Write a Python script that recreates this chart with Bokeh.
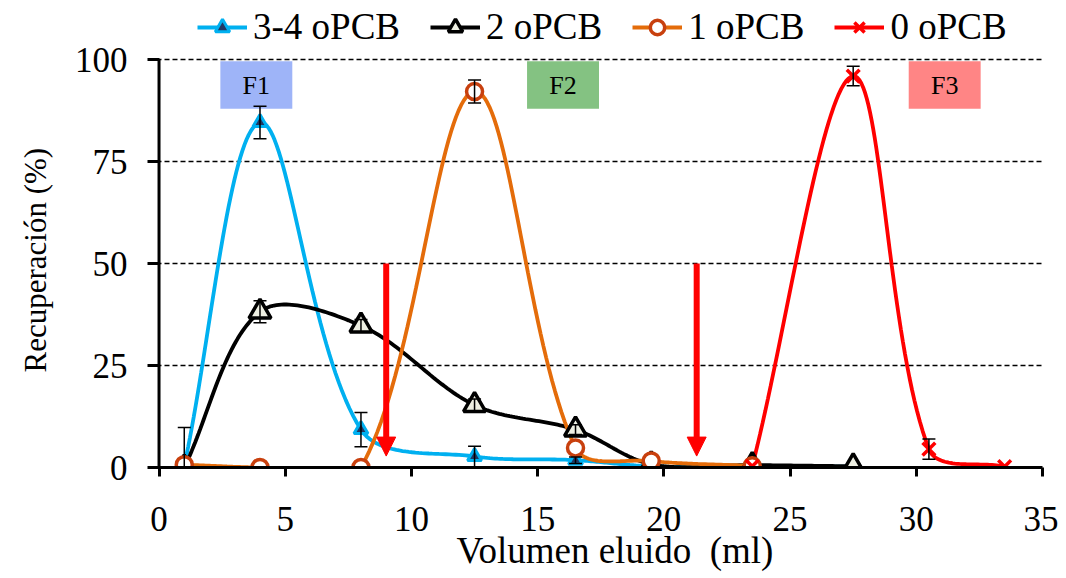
import numpy as np
from bokeh.plotting import figure
from bokeh.models import (Range1d, FixedTicker, Legend, LegendItem, Whisker, Title,
                          ColumnDataSource, Arrow, NormalHead, TeeHead)
from bokeh.core.properties import value
from bokeh.embed import file_html
from bokeh.resources import INLINE

# ---------------- data ----------------
x_blue = [1, 4, 8, 12.5, 16.5, 19.5, 23.5, 27.5]
y_blue = [0.5, 84.6, 9.3, 2.7, 1.8, 0.3, 0.2, 0.2]
e_blue = [9.3, 4.0, 4.2, 2.5, 0.8, 0, 0, 0]

x_black = [1, 4, 8, 12.5, 16.5, 19.5, 23.5, 27.5]
y_black = [0.0, 38.2, 34.8, 15.3, 9.3, 0.8, 0.6, 0.3]
e_black = [0, 2.7, 1.5, 1.5, 1.2, 0, 0, 0]

x_orange = [1, 4, 8, 12.5, 16.5, 19.5, 23.5]
y_orange = [0.7, 0.0, 0.0, 92.2, 4.8, 1.6, 0.4]
e_orange = [0, 0, 0, 2.8, 0, 0, 0]

x_red = [23.5, 27.5, 30.5, 33.5]
y_red = [0.3, 96.0, 4.5, 0.2]
e_red = [0, 2.4, 2.5, 0]

labels = ["3-4 oPCB", "2 oPCB", "1 oPCB", "0 oPCB"]
x_ticks = [0, 5, 10, 15, 20, 25, 30, 35]
y_ticks = [0, 25, 50, 75, 100]

frac_labels = ["F1", "F2", "F3"]
frac_left = [2.43, 14.58, 29.7]
frac_right = [5.28, 17.43, 32.55]
frac_colors = ["#9EB4F8", "#84C282", "#FF8585"]
arrow_x = [9.0, 21.3]

FONT = "Liberation Serif"


def excel_smooth(xs, ys, sx=25.27, sy=4.074, n=40):
    P = np.column_stack([np.asarray(xs, float) * sx, np.asarray(ys, float) * sy])
    m = len(P)
    pts = [P[0]]
    for i in range(m - 1):
        p0 = P[i - 1] if i > 0 else P[i]
        p1 = P[i]
        p2 = P[i + 1]
        p3 = P[i + 2] if i + 2 < m else P[i + 1]
        d01 = np.linalg.norm(p1 - p0)
        d12 = np.linalg.norm(p2 - p1)
        d23 = np.linalg.norm(p3 - p2)
        c1 = p1 + (p2 - p0) * (1 / 3) * d12 / (d01 + d12)
        c2 = p2 - (p3 - p1) * (1 / 3) * d12 / (d12 + d23)
        t = np.linspace(0, 1, n)[1:, None]
        b = ((1 - t) ** 3) * p1 + 3 * ((1 - t) ** 2) * t * c1 + 3 * (1 - t) * t ** 2 * c2 + t ** 3 * p2
        pts.extend(b)
    pts = np.array(pts)
    return pts[:, 0] / sx, pts[:, 1] / sy


# the frame reaches above 100 so that the legend (inside the frame) is not clipped
p = figure(width=1058, height=578, output_backend="svg", toolbar_location=None,
           x_range=Range1d(-0.1, 35), y_range=Range1d(0, 113.3),
           min_border_left=155, min_border_right=16, min_border_top=5,
           min_border_bottom=111)
p.outline_line_color = None
p.background_fill_color = "white"
p.xgrid.visible = False
p.ygrid.grid_line_color = "black"
p.ygrid.grid_line_dash = "5 3"
p.ygrid.grid_line_width = 1.5

p.xaxis.ticker = FixedTicker(ticks=x_ticks)
p.yaxis.ticker = FixedTicker(ticks=y_ticks)
for ax in (p.xaxis, p.yaxis):
    ax.axis_line_width = 3
    ax.axis_line_color = "black"
    ax.major_tick_line_width = 3
    ax.major_tick_line_color = "black"
    ax.major_tick_in = 0
    ax.major_tick_out = 9
    ax.minor_tick_line_color = None
    ax.major_label_text_font = FONT
    ax.major_label_text_font_size = "35px"
    ax.major_label_text_color = "black"
p.yaxis.axis_line_color = None
p.yaxis.major_tick_in = 3
p.xaxis.major_label_standoff = 30
p.yaxis.major_label_standoff = 20

# axis titles
p.add_layout(Title(text="Recuperación (%)", align="left", offset=95,
                   vertical_align="top", standoff=34, text_font=FONT,
                   text_font_size="31px", text_font_style="normal",
                   text_color="black"), "left")
p.add_layout(Title(text="Volumen eluido \u00a0(ml)", align="left", offset=300,
                   vertical_align="top", standoff=-8, text_font=FONT,
                   text_font_size="37px", text_font_style="normal",
                   text_color="black"), "below")

# y axis line, only from 0 to 100
p.segment(x0=[x_ticks[0]], y0=[y_ticks[0]], x1=[x_ticks[0]], y1=[y_ticks[-1]],
          line_color="black", line_width=3)

# fraction boxes
p.quad(left=frac_left, right=frac_right, top=[99.6] * 3, bottom=[88.0] * 3,
       fill_color=frac_colors, line_color=None)
p.text(x=[(a + b) / 2 for a, b in zip(frac_left, frac_right)], y=[93.8] * 3,
       text=frac_labels, text_font=value(FONT), text_font_size="26px",
       text_align="center", text_baseline="middle", text_color="black")

series = [
    (x_blue, y_blue, e_blue, "#00B0F0", dict(marker="triangle", size=14, fill_color="#1F3864",
                                              line_color="#00B0F0", line_width=3)),
    (x_black, y_black, e_black, "black", dict(marker="triangle", size=22, fill_color="#EEEFE2",
                                               line_color="black", line_width=3.5)),
    (x_orange, y_orange, e_orange, "#E46C0A", dict(marker="circle", size=16, fill_color="white",
                                                    line_color="#C8400E", line_width=3.5)),
    (x_red, y_red, e_red, "#FF0000", dict(marker="x", size=18, line_color="#FF0000",
                                           line_width=3.5)),
]

line_rs = []
for xs, ys, es, col, mk in series:
    sx, sy = excel_smooth(xs, ys)
    line_rs.append(p.line(sx, sy, line_color=col, line_width=3.8))

for xs, ys, es, col, mk in series:
    xe = [x for x, e in zip(xs, es) if e > 0]
    lo = [y - e for y, e in zip(ys, es) if e > 0]
    hi = [y + e for y, e in zip(ys, es) if e > 0]
    src = ColumnDataSource(dict(x=xe, lower=lo, upper=hi))
    w = Whisker(base="x", lower="lower", upper="upper", source=src,
                line_color="black", line_width=1.5, level="glyph",
                upper_head=TeeHead(size=13, line_color="black", line_width=1.5),
                lower_head=TeeHead(size=13, line_color="black", line_width=1.5))
    p.add_layout(w)

scat_rs = []
for xs, ys, es, col, mk in series:
    scat_rs.append(p.scatter(xs, ys, **mk))

for ax_ in arrow_x:
    p.add_layout(Arrow(x_start=ax_, y_start=50, x_end=ax_, y_end=2.8,
                       line_color="#FF0000", line_width=6,
                       end=NormalHead(size=19, fill_color="#FF0000", line_color="#FF0000",
                                      line_width=1)))

legend = Legend(items=[LegendItem(label=l, renderers=[lr, sr])
                       for l, lr, sr in zip(labels, line_rs, scat_rs)],
                orientation="horizontal", location=(41, 419),
                label_text_font=FONT, label_text_font_size="37px",
                label_text_color="black", glyph_width=50, glyph_height=36,
                label_standoff=6, spacing=30, padding=0, margin=0,
                border_line_color=None, background_fill_alpha=0)
p.add_layout(legend)

open("out.html", "w").write(file_html(p, INLINE))
